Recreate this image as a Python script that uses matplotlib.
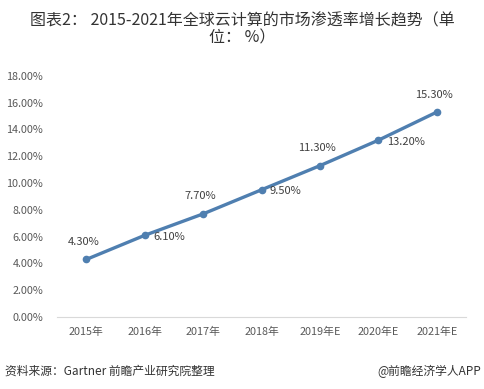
import matplotlib
matplotlib.use("Agg")
import matplotlib.pyplot as plt
from matplotlib.ticker import FuncFormatter

plt.rcParams['font.family'] = ['Noto Sans CJK SC', 'DejaVu Sans']

years = ['2015年', '2016年', '2017年', '2018年', '2019年E', '2020年E', '2021年E']
rates = [4.30, 6.10, 7.70, 9.50, 11.30, 13.20, 15.30]
# label placement: 'up' above-left, 'right' to the right of the point
label_pos = ['up', 'right', 'up', 'right', 'up', 'right', 'up']

line_color = '#4f7fb0'
text_gray = '#595959'

fig = plt.figure(figsize=(4.84, 3.89), dpi=100)
ax = fig.add_axes([0.118, 0.185, 0.845, 0.62])

x = range(len(years))
ax.plot(x, rates, color=line_color, linewidth=2.4, marker='o', markersize=4.5,
        markerfacecolor=line_color, markeredgecolor=line_color, zorder=3)

for i, (v, p) in enumerate(zip(rates, label_pos)):
    if p == 'up':
        ax.annotate('%.2f%%' % v, (i, v), xytext=(-2, 9), textcoords='offset points',
                    ha='center', va='bottom', fontsize=8, color='#404040')
    else:
        ax.annotate('%.2f%%' % v, (i, v), xytext=(6, -1), textcoords='offset points',
                    ha='left', va='center', fontsize=8, color='#404040')

ax.set_xlim(-0.5, len(years) - 0.5)
ax.set_ylim(0, 18)
ax.set_yticks([0, 2, 4, 6, 8, 10, 12, 14, 16, 18])
ax.yaxis.set_major_formatter(FuncFormatter(lambda v, _: '%.2f%%' % v))
ax.set_xticks(list(x))
ax.set_xticklabels(years)
ax.tick_params(axis='both', length=0, labelsize=7.8, colors=text_gray)
ax.tick_params(axis='y', pad=10)
ax.tick_params(axis='x', pad=7)

for s in ['top', 'right', 'left']:
    ax.spines[s].set_visible(False)
ax.spines['bottom'].set_color('#d9d9d9')
ax.spines['bottom'].set_linewidth(0.8)

fig.text(0.5, 0.945, '图表2： 2015-2021年全球云计算的市场渗透率增长趋势（单',
         ha='center', va='center', fontsize=11.5, color='#333333')
fig.text(0.5, 0.903, '位： %）', ha='center', va='center', fontsize=11.5, color='#333333')

fig.text(0.01, 0.045, '资料来源：Gartner 前瞻产业研究院整理', ha='left', va='center',
         fontsize=8.5, color='#333333', style='italic')
fig.text(0.995, 0.045, '@前瞻经济学人APP', ha='right', va='center',
         fontsize=8.5, color='#333333')

fig.savefig('out.png', dpi=100)
